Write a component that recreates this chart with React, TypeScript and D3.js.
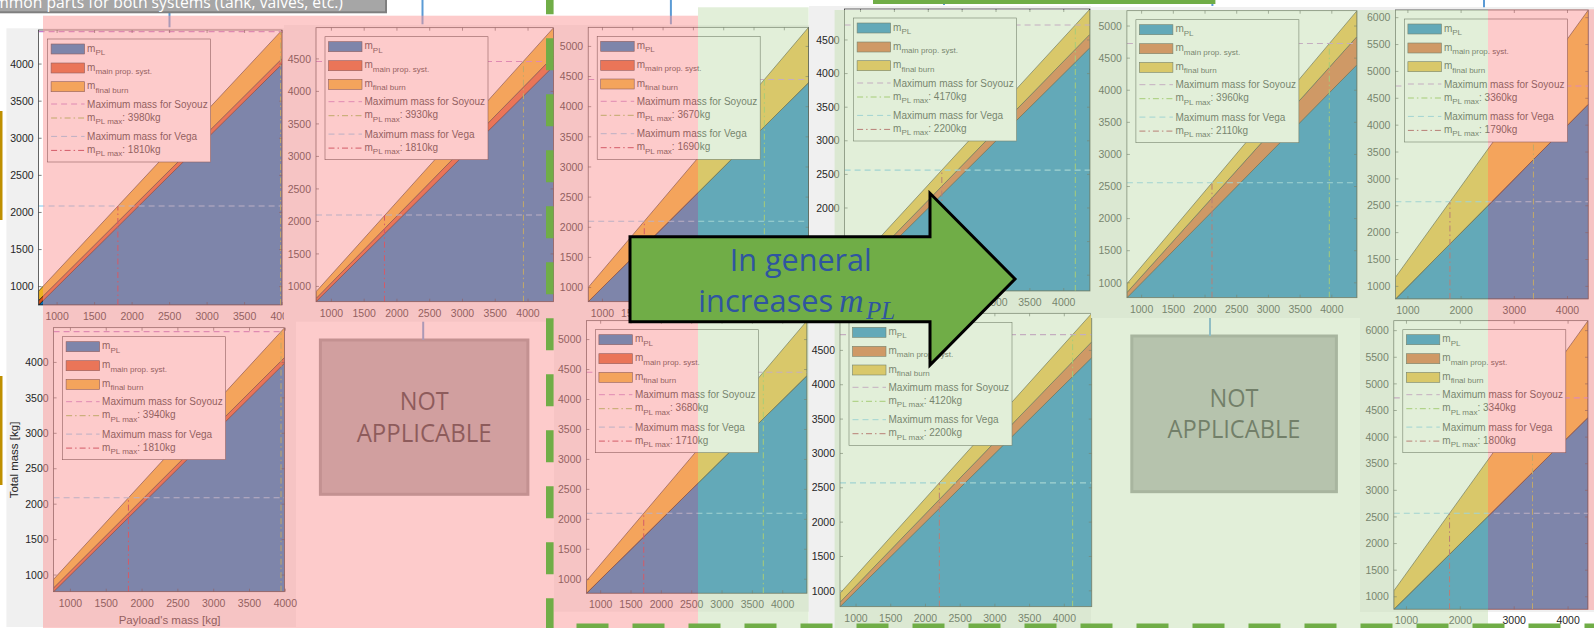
import React from "react";
import * as d3 from "d3";

// ---------------- data ----------------
const panelIds = ["T1", "T2", "T3", "T4", "T5", "T6", "B1", "B3", "B4", "B6"];
const payloadMin = [753, 765, 765, 765, 768, 765, 765, 765, 769, 765];
const payloadMax = [4000, 4390, 4400, 4387, 4397, 4391, 3990, 4400, 4396, 4370];
const mainPropAtMin = [60, 50, 0, 75, 80, 0, 55, 0, 65, 0];
const mainPropAtMax = [75, 150, 0, 200, 440, 0, 80, 0, 230, 0];
const finalBurnAtMin = [128, 103, 237, 151, 137, 403, 120, 206, 130, 347];
const finalBurnAtMax = [384, 440, 917, 374, 402, 1752, 420, 915, 414, 1817];
const soyuzMaxMass = [4437, 4459, 4450, 4723, 4727, 4728, 4435, 4455, 4730, 4737];
const vegaMaxMass = [2087, 2098, 2100, 2564, 2558, 2574, 2090, 2100, 2572, 2569];
const soyuzPLMax = [3980, 3930, 3670, 4170, 3960, 3360, 3940, 3680, 4120, 3340];
const vegaPLMax = [1810, 1810, 1690, 2200, 2110, 1790, 1810, 1710, 2200, 1800];

const xTicksFine = [1000, 1500, 2000, 2500, 3000, 3500, 4000];
const xTicksCoarse = [1000, 2000, 3000, 4000];
const yTicks4000 = [1000, 1500, 2000, 2500, 3000, 3500, 4000];
const yTicks4500 = [1000, 1500, 2000, 2500, 3000, 3500, 4000, 4500];
const yTicks5000 = [1000, 1500, 2000, 2500, 3000, 3500, 4000, 4500, 5000];
const yTicks6000 = [1000, 1500, 2000, 2500, 3000, 3500, 4000, 4500, 5000, 5500, 6000];
const panelXTicks = [xTicksFine, xTicksFine, xTicksFine, xTicksFine, xTicksFine, xTicksCoarse, xTicksFine, xTicksFine, xTicksFine, xTicksCoarse];
const panelYTicks = [yTicks4000, yTicks4500, yTicks5000, yTicks4500, yTicks5000, yTicks6000, yTicks4000, yTicks5000, yTicks4500, yTicks6000];

const legendNames = ["Maximum mass for Soyouz", "Maximum mass for Vega"];
const notApplicableText = ["NOT", "APPLICABLE"];
const arrowText = ["In general", "increases "];
const calloutText = "Common parts for both systems (tank, valves, etc.)";

// ---------------- layout ----------------
const plotFrames = [
  { l: 38.6, r: 282.1, t: 30, b: 305 },
  { l: 316, r: 553.6, t: 27.7, b: 301.7 },
  { l: 588.2, r: 808.6, t: 27.3, b: 301.7 },
  { l: 844.6, r: 1090, t: 9, b: 291 },
  { l: 1126.9, r: 1357, t: 10.7, b: 297.7 },
  { l: 1395.4, r: 1588.3, t: 10, b: 299 },
  { l: 53.6, r: 284.6, t: 327.7, b: 591.7 },
  { l: 586.4, r: 807, t: 320.7, b: 593.3 },
  { l: 840, r: 1091.8, t: 313.3, b: 606.7 },
  { l: 1393.8, r: 1588, t: 320.7, b: 609.3 },
];
const figureBgs = [
  { x: 6.4, y: 28.3, w: 289.6, h: 598.7, panels: [0, 6] },
  { x: 284, y: 25, w: 270, h: 296.7, panels: [1] },
  { x: 554, y: 25, w: 257, h: 586.7, panels: [2, 7] },
  { x: 809, y: 6, w: 282, h: 622, panels: [3, 8] },
  { x: 1091, y: 7, w: 269, h: 311, panels: [4] },
  { x: 1360, y: 7, w: 234, h: 605, panels: [5, 9] },
];

const AX = "#262626";
const C_BLUE = "rgb(0,114,189)";
const C_ORANGE = "rgb(217,83,25)";
const C_YELLOW = "rgb(237,177,32)";
const C_SOYUZ = "rgb(195,125,205)";
const C_SOYUZ_PL = "rgb(135,185,60)";
const C_VEGA = "rgb(125,200,240)";
const C_VEGA_PL = "rgb(170,30,55)";
const FONT = "'Liberation Sans', Arial, Helvetica, sans-serif";
const DASH = "6 4";
const DASHDOT = "6 3 1.5 3";

function Legend({ i, x0, y0 }: { i: number; x0: number; y0: number }) {
  const rows = [10, 29, 47.7, 65, 79, 97.4, 111.4];
  const tx = x0 + 39.5;
  const sw = (cy: number, fill: string) => (
    <rect x={x0 + 3.5} y={y0 + cy - 5} width={33.5} height={10} fill={fill} stroke={AX} strokeWidth={0.6} />
  );
  const ln = (cy: number, color: string, dash: string) => (
    <line x1={x0 + 3.5} x2={x0 + 37} y1={y0 + cy} y2={y0 + cy} stroke={color} strokeWidth={1} strokeDasharray={dash} />
  );
  const sub = (cy: number, s: string, tail?: string) => (
    <text x={tx} y={y0 + cy + 2.5} fontSize={10} fill={AX} fontFamily={FONT}>
      <tspan>m</tspan>
      <tspan dy={3.5} fontSize={8}>{s}</tspan>
      {tail ? <tspan dy={-3.5} fontSize={10}>{tail}</tspan> : null}
    </text>
  );
  const plain = (cy: number, s: string) => (
    <text x={tx} y={y0 + cy + 3.5} fontSize={10} fill={AX} fontFamily={FONT}>{s}</text>
  );
  return (
    <g>
      <rect x={x0} y={y0} width={163} height={123} fill="#fff" stroke={AX} strokeWidth={0.6} />
      {sw(rows[0], C_BLUE)}
      {sub(rows[0], "PL")}
      {sw(rows[1], C_ORANGE)}
      {sub(rows[1], "main prop. syst.")}
      {sw(rows[2], C_YELLOW)}
      {sub(rows[2], "final burn")}
      {ln(rows[3], C_SOYUZ, DASH)}
      {plain(rows[3], legendNames[0])}
      {ln(rows[4], C_SOYUZ_PL, DASHDOT)}
      {sub(rows[4], "PL max", `: ${soyuzPLMax[i]}kg`)}
      {ln(rows[5], C_VEGA, DASH)}
      {plain(rows[5], legendNames[1])}
      {ln(rows[6], C_VEGA_PL, DASHDOT)}
      {sub(rows[6], "PL max", `: ${vegaPLMax[i]}kg`)}
    </g>
  );
}

type Pt = { p: number; m: number; f: number };

function Panel({ i }: { i: number }) {
  const fr = plotFrames[i];
  const totalMax = payloadMax[i] + mainPropAtMax[i] + finalBurnAtMax[i];
  const x = d3.scaleLinear().domain([payloadMin[i], payloadMax[i]]).range([fr.l, fr.r]);
  const y = d3.scaleLinear().domain([payloadMin[i], totalMax]).range([fr.b, fr.t]);
  const pts: Pt[] = [
    { p: payloadMin[i], m: mainPropAtMin[i], f: finalBurnAtMin[i] },
    { p: payloadMax[i], m: mainPropAtMax[i], f: finalBurnAtMax[i] },
  ];
  const aPL = d3.area<Pt>().x((d) => x(d.p)).y0(fr.b).y1((d) => y(d.p));
  const aMain = d3.area<Pt>().x((d) => x(d.p)).y0((d) => y(d.p)).y1((d) => y(d.p + d.m));
  const aFinal = d3.area<Pt>().x((d) => x(d.p)).y0((d) => y(d.p + d.m)).y1((d) => y(d.p + d.m + d.f));
  const clipId = `clip-${panelIds[i]}`;
  const tl = 3;
  const w = fr.r - fr.l;
  const h = fr.b - fr.t;
  return (
    <g>
      <defs>
        <clipPath id={clipId}>
          <rect x={fr.l} y={fr.t} width={w} height={h} />
        </clipPath>
      </defs>
      <rect x={fr.l} y={fr.t} width={w} height={h} fill="#fff" />
      <g clipPath={`url(#${clipId})`}>
        <path d={aPL(pts) || ""} fill={C_BLUE} stroke="#000" strokeWidth={0.6} />
        <path d={aMain(pts) || ""} fill={C_ORANGE} stroke="#000" strokeWidth={0.6} />
        <path d={aFinal(pts) || ""} fill={C_YELLOW} stroke="#000" strokeWidth={0.6} />
        <line x1={fr.l} x2={fr.r} y1={y(soyuzMaxMass[i])} y2={y(soyuzMaxMass[i])} stroke={C_SOYUZ} strokeWidth={1.1} strokeDasharray={DASH} />
        <line x1={fr.l} x2={fr.r} y1={y(vegaMaxMass[i])} y2={y(vegaMaxMass[i])} stroke={C_VEGA} strokeWidth={1.1} strokeDasharray={DASH} />
        <line x1={x(soyuzPLMax[i])} x2={x(soyuzPLMax[i])} y1={fr.b} y2={y(soyuzMaxMass[i])} stroke={C_SOYUZ_PL} strokeWidth={1} strokeDasharray={DASHDOT} />
        <line x1={x(vegaPLMax[i])} x2={x(vegaPLMax[i])} y1={fr.b} y2={y(vegaMaxMass[i])} stroke={C_VEGA_PL} strokeWidth={1} strokeDasharray={DASHDOT} />
      </g>
      <rect x={fr.l} y={fr.t} width={w} height={h} fill="none" stroke={AX} strokeWidth={0.7} />
      {panelXTicks[i].map((v) => (
        <g key={`x${v}`}>
          <line x1={x(v)} x2={x(v)} y1={fr.b} y2={fr.b - tl} stroke={AX} strokeWidth={0.6} />
          <line x1={x(v)} x2={x(v)} y1={fr.t} y2={fr.t + tl} stroke={AX} strokeWidth={0.6} />
          <text x={x(v)} y={fr.b + 15} textAnchor="middle" fontSize={10.5} fill={AX} fontFamily={FONT}>{v}</text>
        </g>
      ))}
      {panelYTicks[i].map((v) => (
        <g key={`y${v}`}>
          <line x1={fr.l} x2={fr.l + tl} y1={y(v)} y2={y(v)} stroke={AX} strokeWidth={0.6} />
          <line x1={fr.r} x2={fr.r - tl} y1={y(v)} y2={y(v)} stroke={AX} strokeWidth={0.6} />
          <text x={fr.l - 5} y={y(v) + 3.7} textAnchor="end" fontSize={10.5} fill={AX} fontFamily={FONT}>{v}</text>
        </g>
      ))}
      <Legend i={i} x0={fr.l + 9} y0={fr.t + 9} />
    </g>
  );
}

function NotApplicable({ x, y, w, h, cx, b1, b2, lenNot, lenApp }: any) {
  return (
    <g>
      <rect x={x} y={y} width={w} height={h} fill="#a6a6a6" stroke="#8a8a8a" strokeWidth={3} />
      <text x={cx} y={b1} textAnchor="middle" fontSize={26} fill="#1e1e1e" fontFamily="'Open Sans', sans-serif" textLength={lenNot} lengthAdjust="spacingAndGlyphs">{notApplicableText[0]}</text>
      <text x={cx} y={b2} textAnchor="middle" fontSize={26} fill="#1e1e1e" fontFamily="'Open Sans', sans-serif" textLength={lenApp} lengthAdjust="spacingAndGlyphs">{notApplicableText[1]}</text>
    </g>
  );
}

export default function App() {
  const connectors = [
    [169.5, 12.3, 27.3], [422.5, 0, 24.3], [670.9, 0, 24.3], [944, 0, 5], [1212.4, 0, 6], [1484, 0, 7.3],
    [423.2, 321.7, 340], [1210, 318, 336],
  ];
  return (
    <svg width={1594} height={628} style={{ position: "absolute", left: 0, top: 0, display: "block" }} xmlns="http://www.w3.org/2000/svg">
      <rect x={0} y={0} width={1594} height={628} fill="#fff" />
      {figureBgs.map((fb, k) => (
        <g key={k}>
          <rect x={fb.x} y={fb.y} width={fb.w} height={fb.h} fill="#f0f0f0" />
          {fb.panels.map((p) => <Panel key={p} i={p} />)}
        </g>
      ))}
      {/* axis titles of bottom-left panel */}
      <text transform="translate(18,460) rotate(-90)" textAnchor="middle" fontSize={11.5} fill={AX} fontFamily={FONT}>Total mass [kg]</text>
      <text x={169.6} y={623.5} textAnchor="middle" fontSize={11.5} fill={AX} fontFamily={FONT}>Payload's mass [kg]</text>

      <NotApplicable x={320.4} y={340} w={207.5} h={154.3} cx={424.2} b1={410} b2={441.7} lenNot={49} lenApp={135} />
      <NotApplicable x={1131.8} y={336} w={204.6} h={155.7} cx={1234} b1={407.3} b2={438.3} lenNot={49} lenApp={133} />

      {connectors.map((c, k) => (
        <line key={k} x1={c[0]} x2={c[0]} y1={c[1]} y2={c[2]} stroke="#5b9bd5" strokeWidth={2} />
      ))}

      {/* callout box top-left */}
      <rect x={-10} y={-20} width={396} height={32.3} fill="#a6a6a6" stroke="#7f7f7f" strokeWidth={2} />
      <text x={-25} y={7.6} fontSize={17} fill="#fff" fontFamily="'Open Sans', sans-serif" textLength={368} lengthAdjust="spacingAndGlyphs">{calloutText}</text>

      {/* translucent overlays */}
      <rect x={43} y={15.7} width={655} height={612.3} fill="#fb9898" opacity={0.5} />
      <rect x={698} y={7.3} width={110.6} height={620.7} fill="#c5e0b4" opacity={0.5} />
      <rect x={834.6} y={10} width={653.4} height={618} fill="#c5e0b4" opacity={0.5} />
      <rect x={1488} y={9.3} width={106} height={600.7} fill="#fb9898" opacity={0.5} />

      {/* green dashed frame, bars */}
      <line x1={549.8} x2={549.8} y1={-17.7} y2={630} stroke="#70ad47" strokeWidth={7.6} strokeDasharray="32 24" />
      <line x1={576.5} x2={1600} y1={626} y2={626} stroke="#70ad47" strokeWidth={5} strokeDasharray="32 24" />
      <rect x={873} y={0} width={342.4} height={4} fill="#70ad47" />
      <rect x={0} y={111} width={2.5} height={109} fill="#bf9000" />
      <rect x={0} y={376} width={2.5} height={109} fill="#bf9000" />

      {/* arrow */}
      <path d="M630,236.7 L930,236.7 L930,193.3 L1015,279 L930,365 L930,321.7 L630,321.7 Z" fill="#70ad47" stroke="#000" strokeWidth={3} strokeLinejoin="miter" />
      <text x={800.8} y={271} textAnchor="middle" fontSize={31} fill="#2f55a0" fontFamily="'Open Sans', sans-serif" textLength={142} lengthAdjust="spacingAndGlyphs">{arrowText[0]}</text>
      <text x={698.3} y={311.7} fontSize={31} fill="#2f55a0" fontFamily="'Open Sans', sans-serif" textLength={135} lengthAdjust="spacingAndGlyphs">{arrowText[1]}</text>
      <text x={839} y={311.7} fontSize={34} fill="#2f55a0" fontFamily="'Liberation Serif', serif" fontStyle="italic">m</text>
      <text x={866} y={318.5} fontSize={25} fill="#2f55a0" fontFamily="'Liberation Serif', serif" fontStyle="italic">PL</text>
    </svg>
  );
}
